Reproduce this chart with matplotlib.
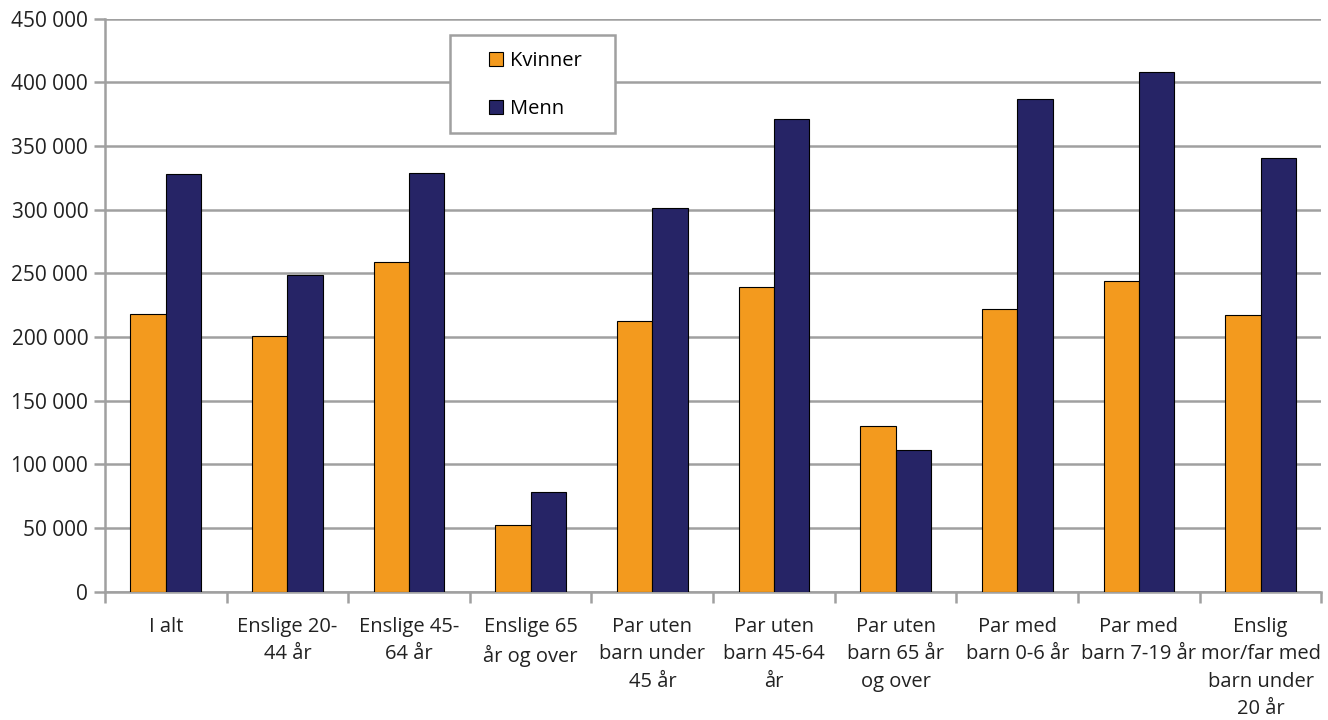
import matplotlib
matplotlib.use("Agg")
import matplotlib.pyplot as plt
import numpy as np
from matplotlib.ticker import FuncFormatter, FixedLocator
from matplotlib.patches import Rectangle

plt.rcParams['font.family'] = ['Open Sans', 'DejaVu Sans']

categories = ["I alt", "Enslige 20-\n44 år", "Enslige 45-\n64 år", "Enslige 65\når og over",
              "Par uten\nbarn under\n45 år", "Par uten\nbarn 45-64\når", "Par uten\nbarn 65 år\nog over",
              "Par med\nbarn 0-6 år", "Par med\nbarn 7-19 år", "Enslig\nmor/far med\nbarn under\n20 år"]
kvinner = [218000, 201000, 259000, 52500, 213000, 239000, 130000, 222000, 244000, 217000]
menn = [328000, 249000, 329000, 78500, 301000, 371000, 111000, 387000, 408000, 341000]
series_names = ["Kvinner", "Menn"]
colors = ["#F39A1E", "#262466"]

fig = plt.figure(figsize=(13.28, 7.2), dpi=100)
ax = fig.add_axes([0.079, 0.178, 0.916, 0.796])

x = np.arange(len(categories))
w = 0.29
ax.bar(x - w/2, kvinner, w, color=colors[0], edgecolor="black", linewidth=0.8, label=series_names[0], zorder=3)
ax.bar(x + w/2, menn, w, color=colors[1], edgecolor="black", linewidth=0.8, label=series_names[1], zorder=3)

ax.set_xlim(-0.5, len(categories) - 0.5)
ax.set_ylim(0, 450000)
ax.set_yticks(np.arange(0, 450001, 50000))
ax.yaxis.set_major_formatter(FuncFormatter(lambda v, p: f"{int(v):,}".replace(",", " ")))
ax.yaxis.grid(True, color="#A0A0A0", linewidth=1.8, zorder=0)
ax.set_axisbelow(True)

ax.set_xticks(x)
ax.set_xticklabels(categories, fontsize=14.5, color="#222222", linespacing=1.5)
ax.tick_params(axis='x', length=0, pad=18)
ax.xaxis.set_minor_locator(FixedLocator(np.arange(-0.5, len(categories), 1)))
ax.tick_params(axis='x', which='minor', length=8, width=1.8, color="#A0A0A0")
ax.tick_params(axis='y', length=8, width=1.8, color="#A0A0A0", labelsize=15, labelcolor="#222222", pad=4)

for s in ["top", "right"]:
    ax.spines[s].set_visible(False)
for s in ["left", "bottom"]:
    ax.spines[s].set_color("#A0A0A0")
    ax.spines[s].set_linewidth(1.8)

# legend frame
fig.patches.append(Rectangle((450/1328, 1 - 133/720), 165/1328, 98/720, transform=fig.transFigure,
                             facecolor="white", edgecolor="#A0A0A0", linewidth=1.8, zorder=5))
leg = fig.legend(*ax.get_legend_handles_labels(), loc="upper left", bbox_to_anchor=(489/1328, 1 - 51/720),
                 frameon=False, fontsize=14.5, handlelength=0.7, handleheight=0.7, handletextpad=0.35,
                 labelspacing=1.38, borderpad=0, borderaxespad=0)
leg.set_zorder(6)
for h in leg.legend_handles:
    h.set_linewidth(0.8)

fig.savefig("out.png", dpi=100)
